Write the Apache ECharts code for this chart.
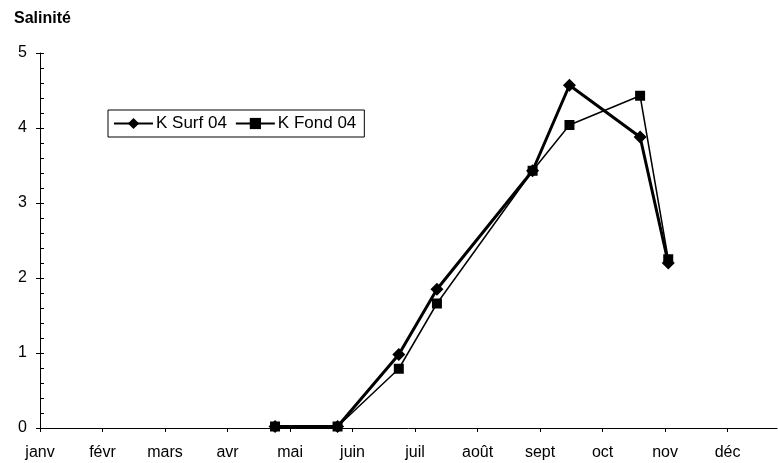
<!DOCTYPE html>
<html>
<head>
<meta charset="utf-8">
<script src="https://cdn.jsdelivr.net/npm/echarts@6/dist/echarts.min.js"></script>
<style>
  html, body { margin: 0; padding: 0; background: #fff; }
  #chart { width: 778px; height: 463px; }
</style>
</head>
<body>
<div id="chart"></div>
<script>
// Month labels (x axis: months since 1 January, one tick per month)
const months = ['janv', 'févr', 'mars', 'avr', 'mai', 'juin', 'juil', 'août', 'sept', 'oct', 'nov', 'déc'];

// Sampling dates expressed in months since 1 January
const sampleMonths = [3.76, 4.76, 5.74, 6.35, 7.88, 8.47, 9.6, 10.05];

// Salinity values
const surf04 = [0.02, 0.02, 0.98, 1.85, 3.43, 4.57, 3.88, 2.2];
const fond04 = [0.02, 0.02, 0.79, 1.66, 3.43, 4.04, 4.43, 2.25];

const yTicks = [0, 1, 2, 3, 4, 5];

const pairs = (xs, ys) => xs.map((x, i) => [x, ys[i]]);

const font = 'Liberation Sans, Arial, sans-serif';
const chart = echarts.init(document.getElementById('chart'));

chart.setOption({
  animation: false,
  backgroundColor: '#fff',
  title: {
    text: 'Salinité',
    left: 9,
    top: 6,
    textStyle: { fontFamily: font, fontSize: 16, fontWeight: 'bold', color: '#000' }
  },
  legend: {
    left: 108,
    top: 110,
    orient: 'horizontal',
    padding: [5, 8, 5, 5],
    itemGap: 8,
    itemWidth: 39,
    itemHeight: 14,
    borderColor: '#000',
    borderWidth: 1,
    textStyle: { fontFamily: font, fontSize: 17, color: '#000', padding: [0, 0, 0, -2] },
    data: ['K Surf 04', 'K Fond 04']
  },
  grid: { left: 40, right: 1, top: 53, bottom: 35, containLabel: false },
  xAxis: {
    type: 'value',
    min: 0,
    max: 11.79,
    interval: 1,
    axisLine: { lineStyle: { color: '#000', width: 1 } },
    axisTick: { show: true, length: 4, lineStyle: { color: '#000' } },
    splitLine: { show: false },
    axisLabel: {
      fontFamily: font, fontSize: 16, color: '#000', margin: 17,
      showMaxLabel: false,
      formatter: v => months[Math.round(v)] || ''
    }
  },
  yAxis: [
    {
      type: 'value',
      min: yTicks[0],
      max: yTicks[yTicks.length - 1],
      interval: 1,
      axisLine: { show: true, lineStyle: { color: '#000', width: 1 } },
      axisTick: { show: true, length: 4, lineStyle: { color: '#000' } },
      splitLine: { show: false },
      axisLabel: { fontFamily: font, fontSize: 16, color: '#000', margin: 13 }
    },
    {
      // inner tick marks (major + minor) along the same left axis
      type: 'value',
      position: 'left',
      min: yTicks[0],
      max: yTicks[yTicks.length - 1],
      interval: 1,
      axisLine: { show: false },
      axisTick: { show: true, inside: true, length: 4, lineStyle: { color: '#000' } },
      minorTick: { show: true, splitNumber: 5, length: 4, lineStyle: { color: '#000' } },
      splitLine: { show: false },
      axisLabel: { show: false }
    }
  ],
  series: [
    {
      name: 'K Fond 04',
      type: 'line',
      data: pairs(sampleMonths, fond04),
      symbol: 'rect',
      symbolSize: 10,
      color: '#000',
      lineStyle: { color: '#000', width: 1.5 },
      itemStyle: { color: '#000' },
      z: 2
    },
    {
      name: 'K Surf 04',
      type: 'line',
      data: pairs(sampleMonths, surf04),
      symbol: 'diamond',
      symbolSize: 13,
      color: '#000',
      lineStyle: { color: '#000', width: 3 },
      itemStyle: { color: '#000' },
      z: 3
    }
  ]
});
</script>
</body>
</html>
